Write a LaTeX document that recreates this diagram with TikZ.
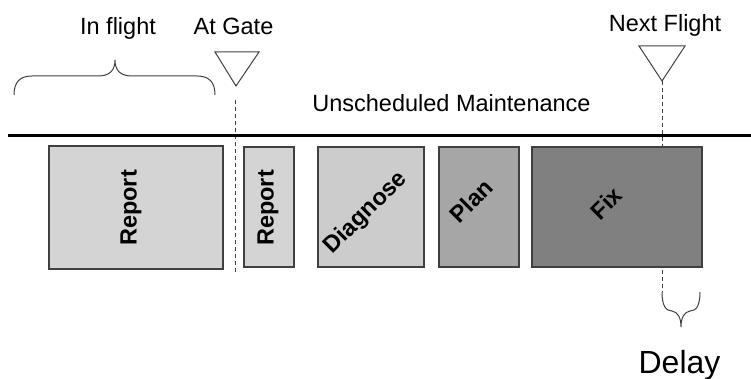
\documentclass[tikz,border=0pt]{standalone}
\usepackage{fontspec}
\setmainfont{Liberation Sans}
\usepackage{tikz}

\definecolor{reportgray}{RGB}{212,212,212}
\definecolor{diaggray}{RGB}{204,204,204}
\definecolor{plangray}{RGB}{166,166,166}
\definecolor{fixgray}{RGB}{128,128,128}
\definecolor{edgegray}{RGB}{64,64,64}

\begin{document}
\begin{tikzpicture}[x=1pt, y=-1pt,
  task/.style={rectangle, draw=edgegray, line width=1.2pt, minimum height=120pt, inner sep=0pt},
  tasktext/.style={font=\fontsize{23.5}{28}\selectfont\bfseries, inner sep=0pt},
  tlabel/.style={font=\fontsize{23.5}{28}\selectfont, inner sep=0pt, anchor=base},
  marker/.style={draw=edgegray, line width=1pt, line join=miter},
  guide/.style={edgegray, line width=1pt, dash pattern=on 4pt off 3pt},
  brace/.style={edgegray, line width=1pt}
]
\useasboundingbox (0,0) rectangle (751,379);

%% Markers on the time line
\coordinate (gate) at (236,86);
\coordinate (next) at (662,81);
\draw[marker] (gate) -- ++(-21,-34) -- ++(44,0) -- cycle;
\draw[marker] (next) -- ++(-23,-35) -- ++(46,0) -- cycle;

%% Dashed guides (behind the boxes)
\coordinate (gatetop) at (235,100);
\coordinate (gatebot) at (235,273);
\coordinate (delaytop) at (662,292);
\draw[guide] (gatetop) -- (gatebot);
\draw[guide] (next) -- (delaytop);

%% Time line
\draw[line width=3pt] (8,136) -- (751,136);

%% Task boxes
\node[task, fill=reportgray, minimum width=174pt, minimum height=123pt] at (136,207.5) (report1) {};
\node[task, fill=reportgray, minimum width=50pt]  at (269,207) (report2) {};
\node[task, fill=diaggray,   minimum width=106pt] at (371,207) (diagnose) {};
\node[task, fill=plangray,   minimum width=80pt]  at (479,207) (plan) {};
\node[task, fill=fixgray,    minimum width=170pt] at (617,207) (fix) {};

%% Box texts
\node[tasktext, rotate=90] at (131,208) {Report};
\node[tasktext, rotate=90] at (268,208) {Report};
\node[tasktext, rotate=45] at (366,213) {Diagnose};
\node[tasktext, rotate=45] at (471,201) {Plan};
\node[tasktext, rotate=45] at (606,203) {Fix};

%% Braces
\draw[brace] (14,95) .. controls (14,82) and (20,76) .. (32,76) -- (98,76)
  .. controls (110,76) and (115,70) .. (115,60)
  .. controls (115,70) and (120,76) .. (132,76) -- (197,76)
  .. controls (209,76) and (215,82) .. (215,95);
\draw[brace] (delaytop) .. controls (662,306) and (666,311) .. (672,311)
  .. controls (678,312) and (681,318) .. (681,327)
  .. controls (681,318) and (684,312) .. (690,311)
  .. controls (696,311) and (700,306) .. (700,292);

%% Labels
\node[tlabel] at (118,35) (inflight) {In flight};
\node[tlabel] at (233.5,35) (atgate) {At Gate};
\node[tlabel] at (665,32) (nextflight) {Next Flight};
\node[tlabel] at (451.5,112) (unsched) {Unscheduled Maintenance};
\node[tlabel, font=\fontsize{32}{38}\selectfont] at (679.5,373) (delay) {Delay};
\end{tikzpicture}
\end{document}
